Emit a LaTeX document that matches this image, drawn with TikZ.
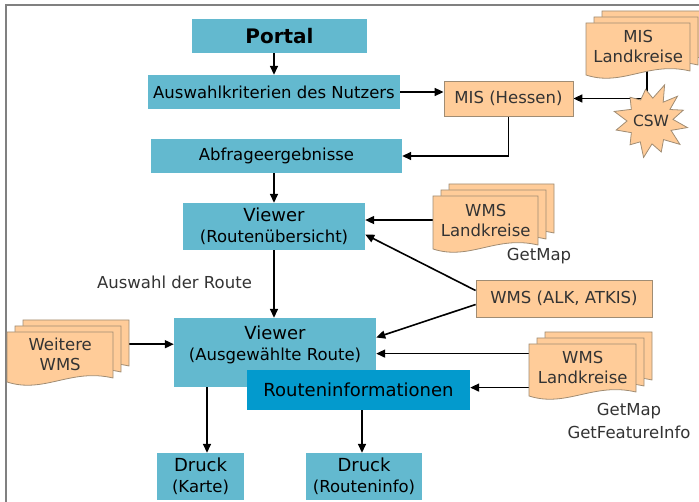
\documentclass[tikz,border=0pt]{standalone}
\usepackage{fontspec}
\setmainfont{DejaVu Sans}
\usetikzlibrary{arrows.meta,calc,backgrounds}

\definecolor{boxblue}{RGB}{99,185,207}
\definecolor{infoblue}{RGB}{3,154,205}
\definecolor{docfill}{RGB}{255,204,153}
\definecolor{docline}{RGB}{160,140,115}
\definecolor{labelgray}{RGB}{51,51,51}
\definecolor{framegray}{RGB}{128,128,128}

\tikzset{
  bluebox/.style={fill=boxblue, draw=none, inner sep=0pt, text=black, align=center,
    font=\fontsize{16.5}{21}\selectfont},
  infobox/.style={bluebox, fill=infoblue},
  orangebox/.style={fill=docfill, draw=docline, line width=0.8pt, inner sep=0pt,
    text=labelgray, font=\fontsize{16.5}{20}\selectfont},
  docpage/.style={fill=docfill, draw=docline, line width=0.8pt},
  doctext/.style={inner sep=0pt, align=center, text=labelgray,
    font=\fontsize{16.5}{20}\selectfont},
  plainlabel/.style={inner sep=0pt, align=center, text=labelgray,
    font=\fontsize{16.5}{23}\selectfont},
  arr/.style={draw=black, line width=1.6pt, -{Triangle[length=9pt,width=8pt]}},
}

% Stack of three document pages with a wavy bottom edge;
% #1 name, #2/#3 top-left of the front page, #4 width, #5 height, #6 text
\newcommand{\stackdoc}[6]{%
  \foreach \layer in {2,1,0}{%
    \draw[docpage, shift={(8*\layer,-6*\layer)}]
      (#2,#3) -- (#2+#4,#3) -- (#2+#4,#3+#5-4)
      .. controls (#2+0.6*#4,#3+#5-14) and (#2+0.35*#4,#3+#5+12) .. (#2,#3+#5) -- cycle;
  }%
  \node[doctext, minimum width=#4pt, minimum height=0.9*#5pt, anchor=north west]
    (#1) at (#2,#3) {#6};%
}

\begin{document}
\begin{tikzpicture}[x=1pt, y=-1pt]
\useasboundingbox (0,0) rectangle (699,502);

% frame
\draw[framegray, line width=2pt] (6,503) -- (6,5) -- (700,5);

% main column
\node[bluebox, minimum width=175pt, minimum height=34pt] (portal) at (279.5,36)
  {\fontsize{20}{22}\selectfont\bfseries Portal};
\node[bluebox, minimum width=252pt, minimum height=34pt] (crit) at (274,92)
  {Auswahlkriterien des Nutzers};
\node[bluebox, minimum width=251pt, minimum height=34pt] (abfr) at (276.5,156)
  {Abfrageergebnisse};
\node[bluebox, minimum width=182pt, minimum height=47pt] (view1) at (274,226.5)
  {{\fontsize{18}{21}\selectfont Viewer}\\(Routenübersicht)};
\node[bluebox, minimum width=202pt, minimum height=69pt] (view2) at (275,352.5) {};
\node[bluebox, fill=none] (view2text) at (275,345)
  {{\fontsize{18}{21}\selectfont Viewer}\\(Ausgewählte Route)};
\node[infobox, minimum width=223pt, minimum height=40pt] (rinfo) at (358.5,390)
  {\fontsize{18}{21}\selectfont Routeninformationen};
\node[bluebox, minimum width=87pt, minimum height=47pt] (druck1) at (200.5,476.5)
  {{\fontsize{18}{21}\selectfont Druck}\\(Karte)};
\node[bluebox, minimum width=116pt, minimum height=47pt] (druck2) at (364,476.5)
  {{\fontsize{18}{21}\selectfont Druck}\\(Routeninfo)};

% services
\node[orangebox, minimum width=129pt, minimum height=35pt] (mis) at (508.5,98.5)
  {MIS (Hessen)};
\node[orangebox, minimum width=176pt, minimum height=37pt] (alk) at (564,298.5)
  {WMS (ALK, ATKIS)};

\stackdoc{mislk}{586}{23}{104}{52}{MIS\\Landkreise}
\stackdoc{wmsA}{433}{196}{105}{53}{WMS\\Landkreise}
\stackdoc{wmsB}{529}{344}{107}{52}{WMS\\Landkreise}
\stackdoc{weit}{7}{332}{106}{50}{Weitere\\WMS}

% catalogue service burst
\draw[docpage, shift={(650,121)}]
  (10:38) -- (24:23) -- (38:38) -- (54:23) -- (70:33) -- (85:23) -- (100:37) --
  (115:23) -- (130:31) -- (148:22) -- (165:35) -- (180:23) -- (195:37) --
  (212:22) -- (230:31) -- (246:23) -- (262:32) -- (277:23) -- (292:39) --
  (305:23) -- (318:37) -- (330:23) -- (342:35) -- (356:23) -- cycle;
\node[doctext, font=\fontsize{15.5}{17}\selectfont] (csw) at (651,121) {CSW};

% labels
\node[plainlabel] (lblroute) at (174.5,282) {Auswahl der Route};
\node[plainlabel] (lblmapA) at (539,256) {GetMap};
\node[plainlabel] (lblmapB) at (629,420.5) {GetMap\\GetFeatureInfo};

% connectors
\begin{scope}[on background layer]
\draw[arr] (crit.north |- portal.south) -- (crit.north);
\draw[arr] (crit.east) -- (crit.east -| mis.west);
\draw[arr] ([xshift=9pt]mislk.south) |- (mis.east);
\draw[arr] (mis.south) |- (abfr.east);
\draw[arr] (view1.north |- abfr.south) -- (view1.north);
\draw[arr] (wmsA.west) -- (wmsA.west -| view1.east);
\draw[arr] ([yshift=8pt]alk.west) -- ([yshift=-8pt]view1.east);
\draw[arr] ([yshift=-6pt]alk.west) -- ([yshift=15pt]view2.east);
\draw[arr] ([yshift=14pt]wmsB.west) -- ([yshift=14pt]wmsB.west -| view2.east);
\draw[arr] ([yshift=-20pt]wmsB.west) -- ([yshift=-20pt]wmsB.west -| rinfo.east);
\draw[arr] ([yshift=10.5pt]weit.east) -- ([yshift=10.5pt]weit.east -| view2.west);
\draw[arr] (view1.south) -- (view1.south |- view2.north);
\draw[arr] ([xshift=6.5pt]druck1.north |- view2.south) -- ([xshift=6.5pt]druck1.north);
\draw[arr] ([xshift=-2pt]druck2.north |- rinfo.south) -- ([xshift=-2pt]druck2.north);
\end{scope}
\end{tikzpicture}
\end{document}
